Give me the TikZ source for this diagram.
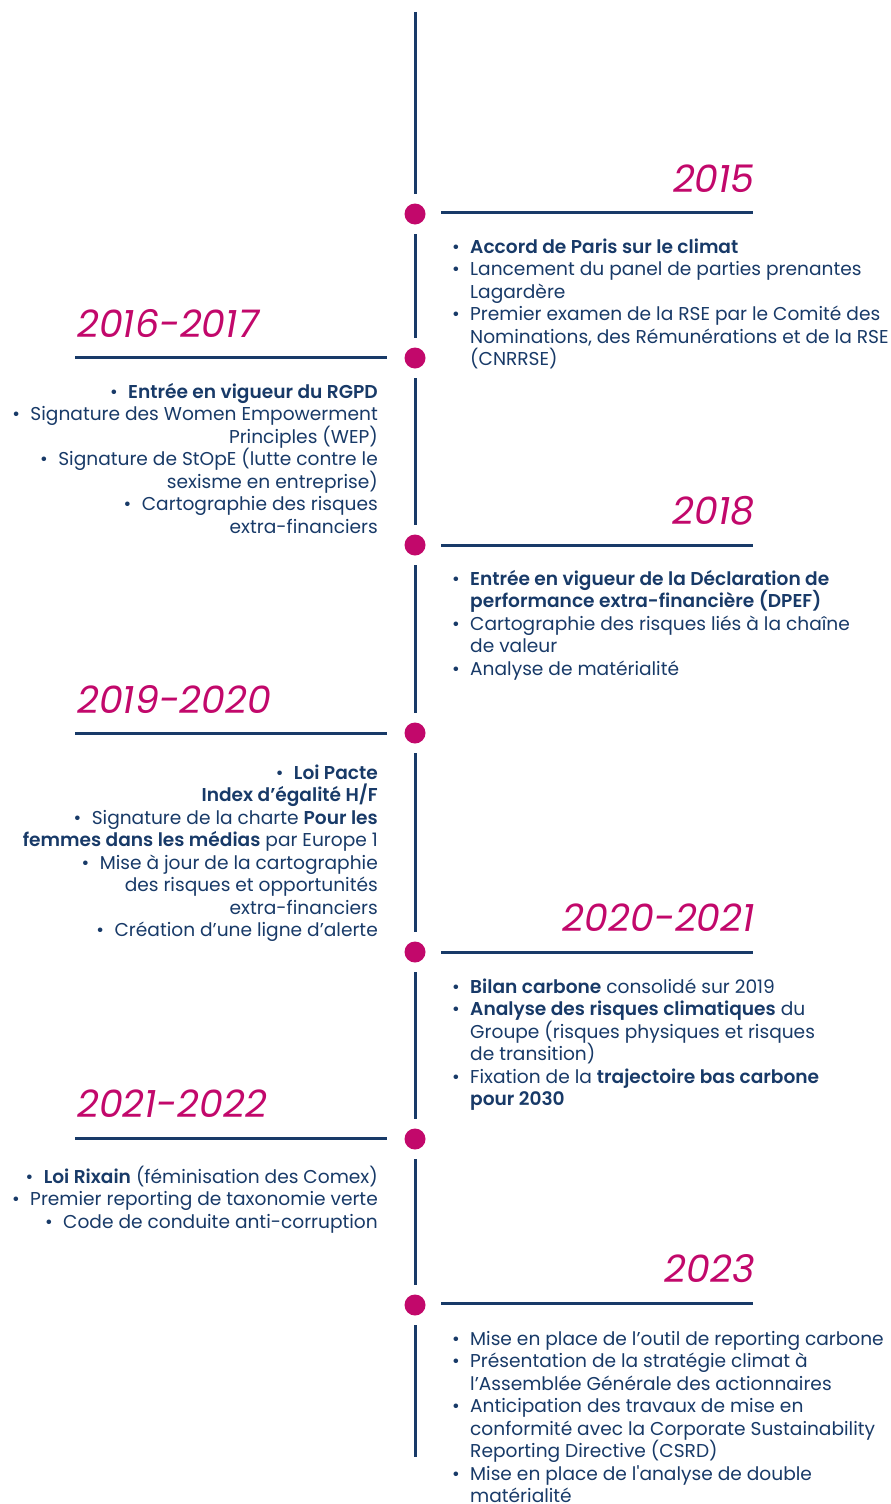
\documentclass[tikz,border=0pt]{standalone}
\usepackage{fontspec}
\setmainfont{Poppins}[BoldFont={Poppins SemiBold}]
\definecolor{lnavy}{HTML}{183A68}
\definecolor{lmag}{HTML}{C2086B}
\newcommand\bl{\makebox[18pt][l]{•}}
\newcommand\ind{\hspace*{18pt}}
\newcommand\lb{•\hspace{10.5pt}}
\tikzset{
  vline/.style={draw=lnavy, line width=3pt, shorten <=9.5pt, shorten >=9.5pt},
  hline/.style={draw=lnavy, line width=3pt},
  dot/.style={circle, fill=lmag, inner sep=0pt, minimum size=21pt},
  year/.style={text=lmag, font=\fontsize{38}{40}\selectfont\itshape, inner sep=0pt},
  rtext/.style={text=lnavy, font=\fontsize{18.6}{22.5}\selectfont, align=left, inner sep=0pt, anchor=base west},
  ltext/.style={text=lnavy, font=\fontsize{18.6}{22.5}\selectfont, align=right, inner sep=0pt, anchor=base east}
}
\begin{document}
\begin{tikzpicture}[x=1pt,y=-1pt]
\fill[white] (0,0) rectangle (891,1504);
\useasboundingbox (0,0) rectangle (891,1504);
% dots
\node[dot] (d1) at (415,214) {};
\node[dot] (d2) at (415,358) {};
\node[dot] (d3) at (415,545) {};
\node[dot] (d4) at (415,733) {};
\node[dot] (d5) at (415,952) {};
\node[dot] (d6) at (415,1139) {};
\node[dot] (d7) at (415,1305) {};
\coordinate (top) at (415,12);
\coordinate (bot) at (415,1457);
% vertical line segments
\draw[vline, shorten <=0pt] (top) -- (d1);
\draw[vline] (d1) -- (d2);
\draw[vline] (d2) -- (d3);
\draw[vline] (d3) -- (d4);
\draw[vline] (d4) -- (d5);
\draw[vline] (d5) -- (d6);
\draw[vline] (d6) -- (d7);
\draw[vline, shorten >=0pt] (d7) -- (bot);
% horizontal rules
\draw[hline] (441,212) -- (753,212);
\draw[hline] (75,357) -- (387,357);
\draw[hline] (441,545) -- (753,545);
\draw[hline] (75,733) -- (387,733);
\draw[hline] (441,952) -- (753,952);
\draw[hline] (75,1138) -- (387,1138);
\draw[hline] (441,1303) -- (753,1303);
% years
\node[year, anchor=base east] (y1) at (755,192) {2015};
\node[year, anchor=base west] (y2) at (77,337) {2016-2017};
\node[year, anchor=base east] (y3) at (755,524) {2018};
\node[year, anchor=base west] (y4) at (77,713) {2019-2020};
\node[year, anchor=base east] (y5) at (755,931) {2020-2021};
\node[year, anchor=base west] (y6) at (77,1117) {2021-2022};
\node[year, anchor=base east] (y7) at (755,1282) {2023};
% texts (anchor = baseline of the last line)
\node[rtext] (t1) at (452,365.5) {\bl\textbf{Accord de Paris sur le climat}\\
\bl Lancement du panel de parties prenantes\\
\ind Lagardère\\
\bl Premier examen de la RSE par le Comité des\\
\ind Nominations, des Rémunérations et de la RSE\\
\ind (CNRRSE)};
\node[ltext] (t2) at (378,533) {\lb\textbf{Entrée en vigueur du RGPD}\\
\lb Signature des Women Empowerment\\
Principles (WEP)\\
\lb Signature de StOpE (lutte contre le\\
sexisme en entreprise)\\
\lb Cartographie des risques\\
extra-financiers};
\node[rtext] (t3) at (452,675) {\bl\textbf{Entrée en vigueur de la Déclaration de}\\
\ind\textbf{performance extra-financière (DPEF)}\\
\bl Cartographie des risques liés à la chaîne\\
\ind de valeur\\
\bl Analyse de matérialité};
\node[ltext] (t4) at (378,936.5) {\lb\textbf{Loi Pacte}\\
\textbf{Index d’égalité H/F}\\
\lb Signature de la charte \textbf{Pour les}\\
\textbf{femmes dans les médias} par Europe 1\\
\lb Mise à jour de la cartographie\\
des risques et opportunités\\
extra-financiers\\
\lb Création d’une ligne d’alerte};
\node[rtext] (t5) at (452,1105.5) {\bl\textbf{Bilan carbone} consolidé sur 2019\\
\bl\textbf{Analyse des risques climatiques} du\\
\ind Groupe (risques physiques et risques\\
\ind de transition)\\
\bl Fixation de la \textbf{trajectoire bas carbone}\\
\ind\textbf{pour 2030}};
\node[ltext] (t6) at (378,1228) {\lb\textbf{Loi Rixain} (féminisation des Comex)\\
\lb Premier reporting de taxonomie verte\\
\lb Code de conduite anti-corruption};
\node[rtext] (t7) at (452,1502.5) {\bl Mise en place de l’outil de reporting carbone\\
\bl Présentation de la stratégie climat à\\
\ind l’Assemblée Générale des actionnaires\\
\bl Anticipation des travaux de mise en\\
\ind conformité avec la Corporate Sustainability\\
\ind Reporting Directive (CSRD)\\
\bl Mise en place de l\textquotesingle analyse de double\\
\ind matérialité};
\end{tikzpicture}
\end{document}
